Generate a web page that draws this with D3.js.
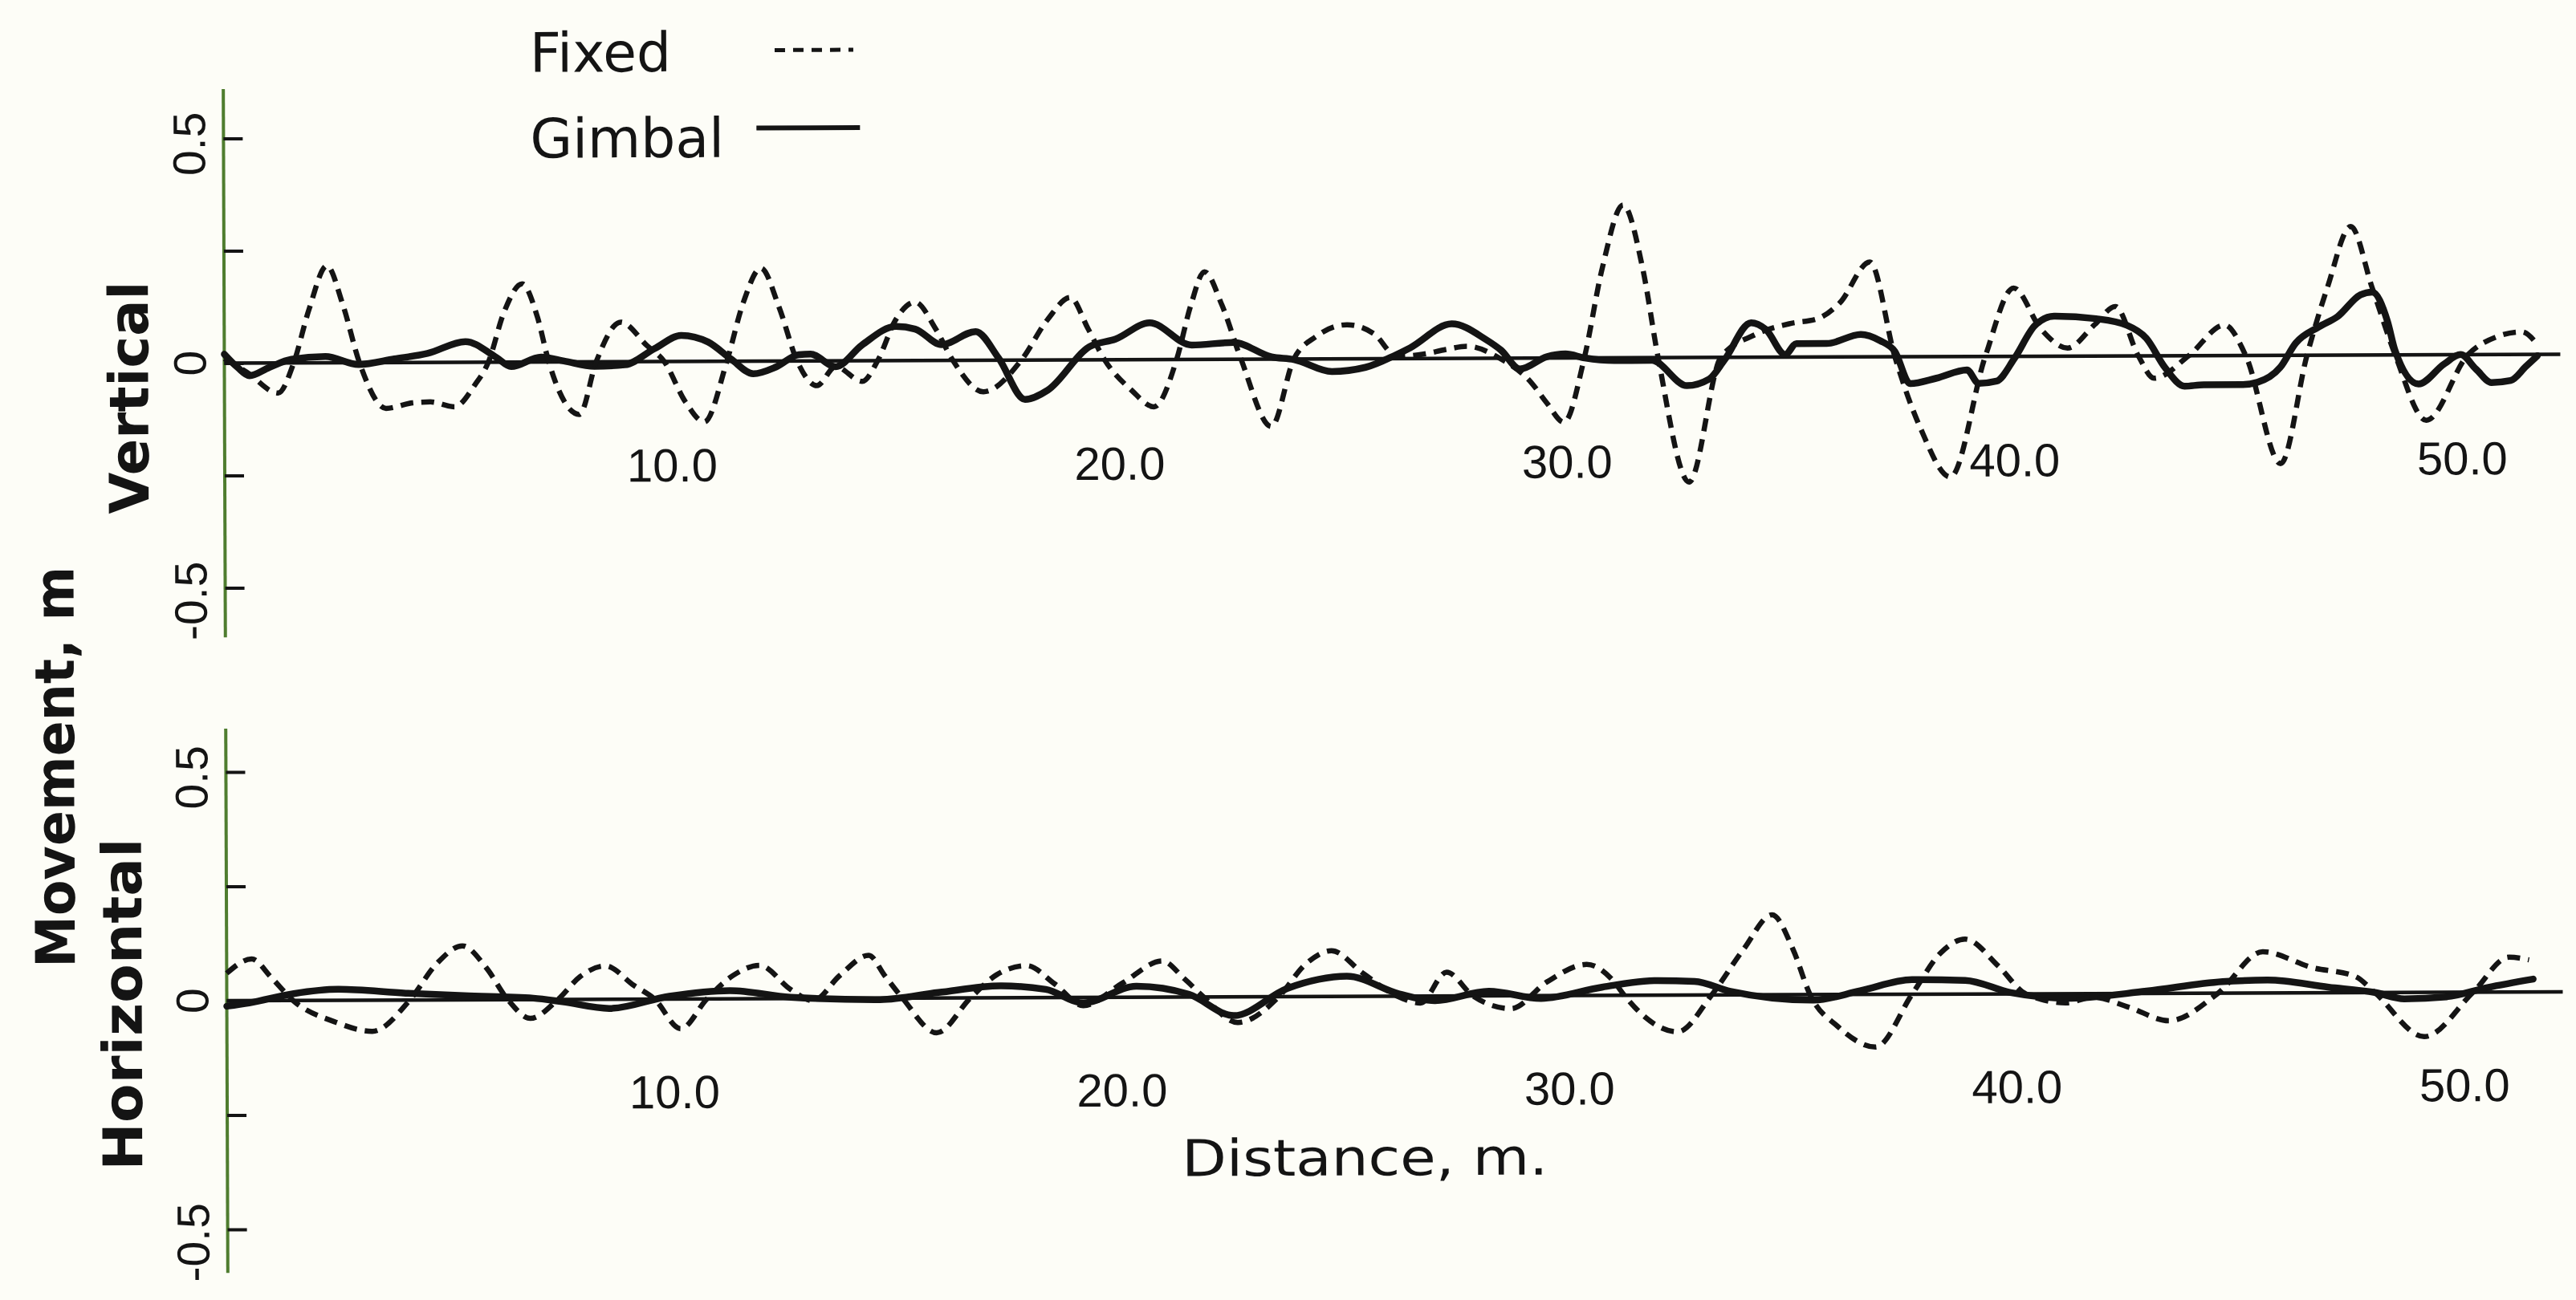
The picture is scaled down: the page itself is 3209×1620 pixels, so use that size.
<!DOCTYPE html>
<html><head><meta charset="utf-8">
<script src="https://cdn.jsdelivr.net/npm/d3@7"></script>
<style>html,body{margin:0;padding:0;background:#fdfdf7;} svg{display:block}</style>
</head><body>
<svg id="chart" width="3209" height="1620"></svg>
<script>
// ---------- data ----------
const distanceTicks = [10, 20, 30, 40, 50];
const distanceTickLabels = ["10.0", "20.0", "30.0", "40.0", "50.0"];
const movementTicks = [-0.5, -0.25, 0, 0.25, 0.5];
const movementLabelTicks = [0.5, 0, -0.5];
const movementTickLabels = ["0.5", "0", "-0.5"];
const seriesNames = ["Fixed", "Gimbal"];
const panelNames = ["Vertical", "Horizontal"];

// [distance m, movement m]
const verticalFixed = [[0,0.01],[0.5,-0.02],[1.2,-0.067],[1.55,0],[1.9,0.12],[2.3,0.216],[2.65,0.13],[3.02,0],[3.61,-0.102],[4.2,-0.09],[4.6,-0.088],[5.14,-0.099],[5.6,-0.05],[5.9,0],[6.25,0.11],[6.66,0.174],[7.0,0.1],[7.25,0],[7.93,-0.117],[8.31,0],[8.86,0.088],[9.45,0.035],[9.83,0],[10.3,-0.09],[10.72,-0.135],[11.23,0],[11.6,0.13],[12.0,0.207],[12.4,0.12],[12.8,0],[13.24,-0.055],[13.66,-0.013],[14.25,-0.046],[14.6,0],[15.0,0.09],[15.44,0.13],[15.9,0.07],[16.28,0],[16.96,-0.07],[17.81,0],[18.4,0.09],[18.91,0.139],[19.3,0.07],[19.67,0],[20.26,-0.067],[20.77,-0.105],[21.28,0],[21.6,0.12],[21.91,0.195],[22.3,0.12],[22.72,0],[23.39,-0.15],[23.9,0],[24.4,0.05],[25.09,0.076],[25.7,0.055],[26.2,0.005],[26.8,0.01],[27.3,0.02],[27.77,0.027],[28.5,0],[29.2,-0.054],[29.55,-0.1],[29.93,-0.143],[30.39,0],[30.8,0.2],[31.27,0.34],[31.7,0.2],[32.04,0],[32.72,-0.277],[33.44,0],[34.2,0.05],[35.0,0.075],[35.6,0.085],[36.1,0.12],[36.78,0.211],[37.33,0],[37.9,-0.16],[38.56,-0.268],[39.35,0],[39.99,0.152],[40.6,0.06],[41.19,0.018],[41.8,0.07],[42.26,0.11],[42.77,0],[43.12,-0.05],[43.9,0],[44.7,0.068],[45.17,0],[45.94,-0.241],[46.54,0],[47.0,0.15],[47.53,0.286],[48.0,0.15],[48.51,0],[49.2,-0.146],[50.14,0],[50.8,0.04],[51.34,0.05],[51.7,0.02]];

const verticalGimbal = [[0,0.02],[0.3,-0.01],[0.56,-0.028],[1.0,-0.01],[1.5,0.008],[2.26,0.014],[3.0,-0.004],[3.8,0.008],[4.54,0.02],[5.39,0.046],[6.07,0.011],[6.41,-0.01],[7.08,0.011],[7.59,0.002],[8.27,-0.01],[8.95,-0.007],[9.62,0.029],[10.21,0.058],[10.81,0.043],[11.32,0.005],[11.82,-0.028],[12.33,-0.013],[12.84,0.014],[13.1,0.015],[13.66,-0.013],[14.25,0.035],[15.01,0.076],[15.44,0.07],[16.03,0.035],[16.79,0.064],[17.3,0.005],[17.89,-0.0875],[18.4,-0.067],[19.33,0.029],[19.92,0.046],[20.68,0.082],[21.62,0.032],[22.55,0.0375],[23.4,0.005],[23.9,-0.001],[24.75,-0.028],[25.5,-0.019],[26.17,0.008],[26.5,0.024],[27.43,0.077],[28.19,0.042],[28.53,0.018],[28.95,-0.024],[29.55,0.003],[29.97,0.009],[30.4,0],[31.07,-0.006],[31.9,-0.006],[32.68,-0.0625],[33.18,-0.048],[33.52,-0.006],[34.12,0.077],[34.45,0.062],[34.88,0.006],[35.13,0.03],[35.81,0.03],[36.57,0.05],[37.0,0.036],[37.33,0.012],[37.67,-0.06],[38.26,-0.048],[38.94,-0.03],[39.2,-0.06],[39.6,-0.055],[40.0,-0.005],[40.46,0.068],[40.89,0.089],[41.83,0.083],[42.52,0.068],[42.95,0.039],[43.37,-0.027],[43.8,-0.068],[44.23,-0.065],[45.09,-0.065],[45.43,-0.06],[45.94,-0.027],[46.29,0.027],[46.8,0.0625],[47.23,0.086],[47.74,0.134],[48.0,0.14],[48.34,0.075],[48.51,0.009],[49.03,-0.065],[49.6,-0.021],[49.97,0],[50.32,-0.033],[50.66,-0.0625],[51.09,-0.058],[51.43,-0.027],[51.69,-0.003]];

const horizontalFixed = [[0,0.06],[0.56,0.091],[1.0,0.05],[1.48,0],[2.41,-0.047],[3.25,-0.068],[4.09,0],[4.7,0.08],[5.27,0.118],[5.8,0.07],[6.28,0],[6.78,-0.041],[7.4,0],[7.9,0.05],[8.46,0.073],[9.1,0.03],[9.56,0],[10.14,-0.065],[10.73,0],[11.3,0.05],[11.91,0.073],[12.6,0.02],[13.1,-0.005],[13.7,0.05],[14.35,0.094],[14.7,0.05],[15.1,0],[15.86,-0.076],[16.62,0],[17.2,0.05],[17.88,0.07],[18.5,0.03],[19.14,-0.018],[20.0,0.03],[20.91,0.079],[21.4,0.04],[21.83,0],[22.59,-0.056],[23.51,0],[24.1,0.07],[24.69,0.1],[25.4,0.05],[26.16,0],[26.67,-0.015],[27.26,0.052],[27.85,0],[28.7,-0.028],[29.5,0.03],[30.39,0.068],[31.0,0.03],[31.23,0],[32.42,-0.08],[33.18,0],[33.9,0.1],[34.54,0.175],[35.0,0.1],[35.38,0],[36.0,-0.07],[36.84,-0.115],[37.66,0],[38.3,0.09],[38.85,0.12],[39.6,0.06],[40.2,0],[41.1,-0.02],[41.7,-0.008],[42.5,-0.03],[43.4,-0.06],[44.5,0],[45.5,0.09],[46.6,0.055],[47.57,0.035],[48.0,0],[49.1,-0.097],[50.2,0],[51.0,0.076],[51.45,0.07]];

const horizontalGimbal = [[0,-0.012],[0.5,-0.005],[1.5,0.015],[2.49,0.024],[4.0,0.015],[5.3,0.009],[6.85,0.003],[7.5,-0.005],[8.55,-0.02],[9.89,0.006],[11.24,0.018],[12.6,0.003],[14.6,-0.003],[15.9,0.012],[17.29,0.026],[18.3,0.018],[19.14,-0.012],[20.32,0.024],[21.5,0.006],[22.5,-0.041],[23.7,0.018],[25.03,0.044],[26.2,0.005],[27.0,-0.01],[28.2,0.01],[29.37,-0.006],[30.73,0.018],[31.9,0.032],[32.8,0.03],[33.6,0.008],[35.46,-0.012],[36.5,0.008],[37.66,0.032],[38.85,0.03],[39.86,0.003],[41.22,-0.01],[42.9,0.005],[44.6,0.025],[45.6,0.028],[46.97,0.012],[48.0,0],[48.66,-0.014],[49.6,-0.01],[50.52,0.01],[51.54,0.028]];

// ---------- drawing ----------
const INK = "#141414";
const AXIS_GREEN = "#4f7d2f";
const WORD_FONT = "'DejaVu Sans', sans-serif";
const NUM_FONT = "'Liberation Sans', Arial, sans-serif";

const svg = d3.select("#chart");
svg.append("rect").attr("width", 3209).attr("height", 1620).attr("fill", "#fdfdf7");
const root = svg.append("g").attr("transform", "rotate(-0.22,1600,850)");

const x = d3.scaleLinear().domain([0, 52.2]).range([281, 3191]);

const panels = [
  { name: panelNames[0], fixed: verticalFixed, gimbal: verticalGimbal,
    y: d3.scaleLinear().domain([-0.5, 0.5]).range([727.5, 167.5]),
    axisExtent: 0.61, labelBaseline: 597, titleX: 186, titleY: 490, titleLen: 290 },
  { name: panelNames[1], fixed: horizontalFixed, gimbal: horizontalGimbal,
    y: d3.scaleLinear().domain([-0.5, 0.5]).range([1527, 957]),
    axisExtent: 0.595, labelBaseline: 1378, titleX: 175, titleY: 1246, titleLen: 414 }
];

panels.forEach(p => {
  const g = root.append("g");
  const y = p.y;

  // green y axis line
  g.append("line")
    .attr("x1", x(0)).attr("x2", x(0))
    .attr("y1", y(p.axisExtent)).attr("y2", y(-p.axisExtent))
    .attr("stroke", AXIS_GREEN).attr("stroke-width", 4);

  // ticks (pointing right)
  const ax = g.append("g").attr("transform", `translate(${x(0)},0)`)
    .call(d3.axisRight(y).tickValues(movementTicks).tickSize(24).tickFormat(""));
  ax.select(".domain").remove();
  ax.selectAll(".tick line").attr("stroke", INK).attr("stroke-width", 4);

  // y tick labels (rotated)
  movementLabelTicks.forEach((v, i) => {
    const anchor = v === 0 ? "middle" : "end";
    const cy = v === 0 ? y(v) : y(v) - 33;
    g.append("text")
      .attr("transform", `translate(258,${cy}) rotate(-90)`)
      .attr("text-anchor", anchor)
      .attr("font-family", NUM_FONT).attr("font-size", 57)
      .attr("fill", INK)
      .text(movementTickLabels[i]);
  });

  // zero line
  g.append("line")
    .attr("x1", x(0)).attr("x2", x(52.2))
    .attr("y1", y(0)).attr("y2", y(0))
    .attr("stroke", INK).attr("stroke-width", 4.5);

  // x tick labels sitting inside the panel
  g.selectAll("text.xl").data(distanceTicks).enter().append("text")
    .attr("class", "xl")
    .attr("x", d => x(d)).attr("y", p.labelBaseline)
    .attr("text-anchor", "middle")
    .attr("font-family", NUM_FONT).attr("font-size", 58)
    .attr("fill", INK)
    .text((d, i) => distanceTickLabels[i]);

  const line = d3.line().x(d => x(d[0])).y(d => y(d[1])).curve(d3.curveMonotoneX);

  g.append("path").datum(p.gimbal)
    .attr("d", line).attr("fill", "none")
    .attr("stroke", INK).attr("stroke-width", 8.5)
    .attr("stroke-linejoin", "round").attr("stroke-linecap", "round");

  g.append("path").datum(p.fixed)
    .attr("d", line).attr("fill", "none")
    .attr("stroke", INK).attr("stroke-width", 6.5)
    .attr("stroke-dasharray", "16,10");

  // panel title
  g.append("text")
    .attr("transform", `translate(${p.titleX},${p.titleY}) rotate(-90)`)
    .attr("text-anchor", "middle")
    .attr("font-family", WORD_FONT).attr("font-size", 68).attr("font-weight", "bold")
    .attr("textLength", p.titleLen).attr("lengthAdjust", "spacingAndGlyphs")
    .attr("fill", INK)
    .text(p.name);
});

// shared y title
root.append("text")
  .attr("transform", "translate(92,950) rotate(-90)")
  .attr("text-anchor", "middle")
  .attr("font-family", WORD_FONT).attr("font-size", 68).attr("font-weight", "bold")
  .attr("textLength", 500).attr("lengthAdjust", "spacingAndGlyphs")
  .attr("fill", INK)
  .text("Movement, m");

// x title
root.append("text")
  .attr("x", 1470).attr("y", 1465)
  .attr("font-family", WORD_FONT).attr("font-size", 63)
  .attr("textLength", 456).attr("lengthAdjust", "spacingAndGlyphs")
  .attr("fill", INK)
  .text("Distance, m.");

// legend
const legend = root.append("g");
const legendRows = [
  { name: seriesNames[0], baseline: 86, lineY: 60, dash: "13,10", width: 5, x1: 968, x2: 1066 },
  { name: seriesNames[1], baseline: 193, lineY: 157, dash: null, width: 6, x1: 945, x2: 1074 }
];
legendRows.forEach(r => {
  legend.append("text")
    .attr("x", 663).attr("y", r.baseline)
    .attr("font-family", WORD_FONT).attr("font-size", 68)
    .attr("fill", INK).text(r.name);
  legend.append("line")
    .attr("x1", r.x1).attr("x2", r.x2).attr("y1", r.lineY).attr("y2", r.lineY)
    .attr("stroke", INK).attr("stroke-width", r.width)
    .attr("stroke-dasharray", r.dash);
});
</script>
</body></html>
